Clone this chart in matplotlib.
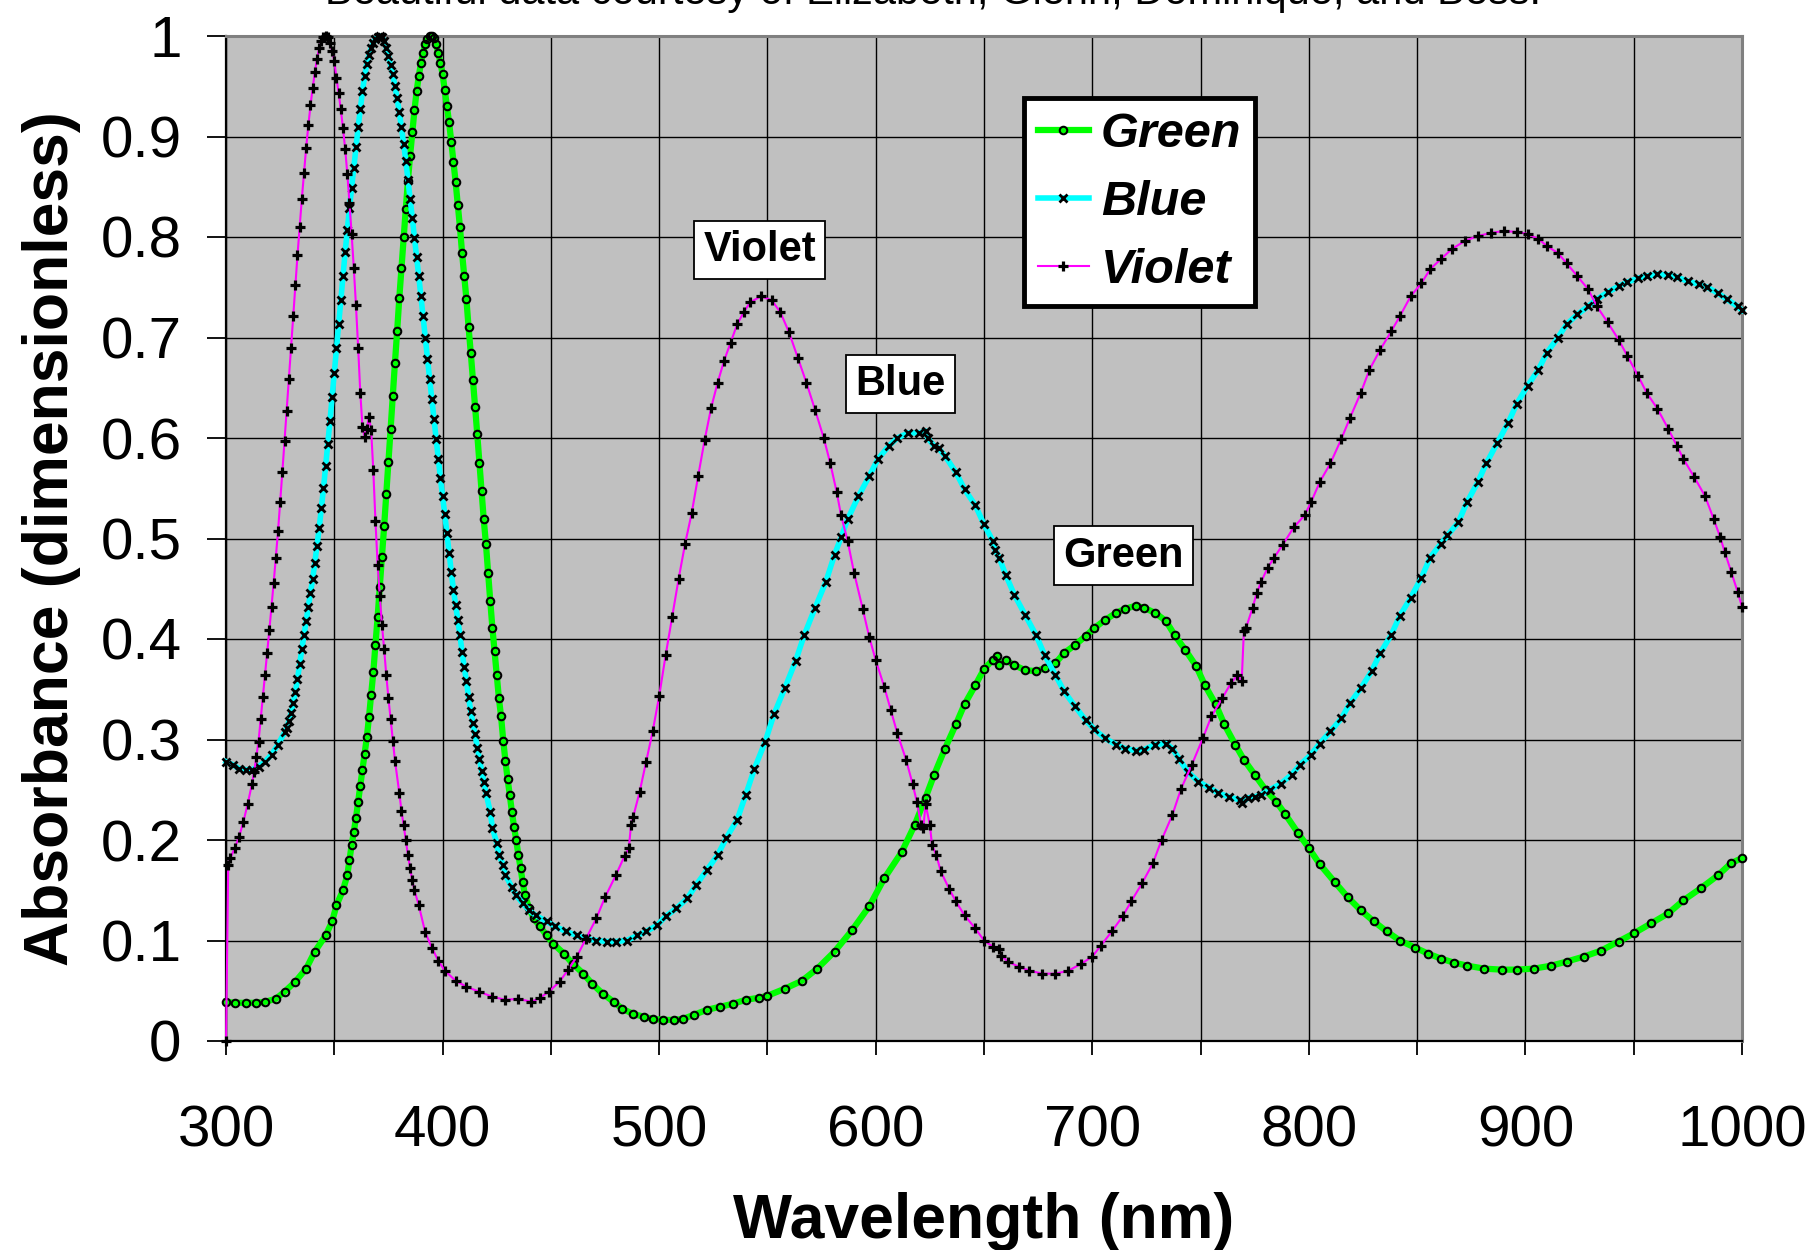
import matplotlib
matplotlib.use("Agg")
import matplotlib.pyplot as plt
from matplotlib.ticker import MultipleLocator, FixedLocator

plt.rcParams['font.family'] = ['Liberation Sans', 'DejaVu Sans']

# absorbance spectra (wavelength nm, absorbance)
green_pts = [
    (300, 0.039), (304, 0.038), (309, 0.038), (314, 0.038), (318, 0.039), (323, 0.042),
    (327, 0.049), (332, 0.059), (337, 0.072), (341, 0.089), (346, 0.105), (349, 0.119),
    (351, 0.135), (354, 0.150), (356, 0.165), (357, 0.180), (358, 0.195), (359, 0.208),
    (360, 0.222), (361, 0.238), (362, 0.254), (363, 0.270), (364, 0.286), (365, 0.302),
    (366, 0.322), (367, 0.344), (368, 0.367), (369, 0.394), (370, 0.422), (371, 0.452),
    (372, 0.482), (373, 0.512), (374, 0.544), (375, 0.576), (376, 0.609), (377, 0.642),
    (378, 0.675), (379, 0.706), (380, 0.739), (381, 0.769), (382, 0.800), (383, 0.828),
    (384, 0.856), (385, 0.881), (386, 0.904), (387, 0.926), (388, 0.945), (389, 0.960),
    (390, 0.973), (391, 0.983), (392, 0.992), (393, 0.997), (394, 1.000), (395, 1.000),
    (396, 0.998), (397, 0.992), (398, 0.983), (399, 0.973), (400, 0.962), (401, 0.946),
    (402, 0.930), (403, 0.914), (404, 0.895), (405, 0.875), (406, 0.855), (407, 0.832),
    (408, 0.810), (409, 0.784), (410, 0.761), (411, 0.738), (412, 0.710), (413, 0.685),
    (414, 0.658), (415, 0.631), (416, 0.604), (417, 0.575), (418, 0.547), (419, 0.519),
    (420, 0.495), (421, 0.466), (422, 0.438), (423, 0.411), (424, 0.388), (425, 0.364),
    (426, 0.341), (427, 0.323), (428, 0.299), (429, 0.279), (430, 0.261), (431, 0.245),
    (432, 0.228), (433, 0.213), (434, 0.200), (435, 0.185), (436, 0.172), (437, 0.158),
    (438, 0.145), (440, 0.132), (442, 0.122), (445, 0.114), (448, 0.105), (451, 0.097),
    (456, 0.087), (460, 0.077), (465, 0.067), (469, 0.057), (474, 0.047), (479, 0.039),
    (483, 0.032), (488, 0.027), (493, 0.024), (497, 0.022), (502, 0.021), (507, 0.021),
    (511, 0.022), (516, 0.026), (522, 0.031), (528, 0.034), (534, 0.037), (540, 0.041),
    (546, 0.043), (550, 0.045), (558, 0.052), (566, 0.060), (573, 0.072), (581, 0.089),
    (589, 0.110), (597, 0.134), (604, 0.162), (612, 0.188), (618, 0.215), (623, 0.242),
    (627, 0.265), (632, 0.291), (637, 0.315), (641, 0.335), (646, 0.354), (650, 0.370),
    (654, 0.379), (656, 0.383), (657, 0.374), (660, 0.379), (664, 0.374), (669, 0.369),
    (674, 0.368), (678, 0.371), (683, 0.376), (687, 0.386), (692, 0.394), (697, 0.403),
    (701, 0.411), (706, 0.419), (711, 0.426), (715, 0.430), (720, 0.433), (724, 0.431),
    (729, 0.426), (734, 0.418), (738, 0.404), (743, 0.389), (748, 0.373), (752, 0.354),
    (757, 0.335), (761, 0.315), (766, 0.295), (770, 0.280), (775, 0.265), (780, 0.250),
    (785, 0.238), (789, 0.226), (795, 0.207), (800, 0.192), (805, 0.176), (812, 0.158),
    (818, 0.143), (824, 0.130), (830, 0.119), (836, 0.109), (842, 0.100), (849, 0.093),
    (855, 0.087), (861, 0.082), (867, 0.078), (873, 0.075), (881, 0.072), (889, 0.071),
    (896, 0.071), (904, 0.072), (912, 0.075), (919, 0.079), (927, 0.084), (935, 0.090),
    (943, 0.099), (950, 0.107), (958, 0.117), (966, 0.127), (973, 0.140), (981, 0.152),
    (989, 0.165), (995, 0.177), (1000, 0.182),
]

blue_pts = [
    (300, 0.278), (303, 0.275), (306, 0.271), (309, 0.270), (312, 0.270), (315, 0.273),
    (318, 0.278), (321, 0.285), (324, 0.295), (327, 0.307), (328, 0.311), (329, 0.318),
    (330, 0.326), (331, 0.336), (332, 0.347), (333, 0.360), (334, 0.375), (335, 0.390),
    (336, 0.404), (337, 0.418), (338, 0.432), (339, 0.446), (340, 0.460), (341, 0.476),
    (342, 0.493), (343, 0.510), (344, 0.530), (345, 0.550), (346, 0.572), (347, 0.594),
    (348, 0.617), (349, 0.641), (350, 0.665), (351, 0.690), (352, 0.713), (353, 0.737),
    (354, 0.761), (355, 0.785), (356, 0.807), (357, 0.829), (358, 0.849), (359, 0.869),
    (360, 0.890), (361, 0.909), (362, 0.927), (363, 0.945), (364, 0.960), (365, 0.972),
    (366, 0.981), (367, 0.988), (368, 0.993), (369, 0.997), (370, 0.999), (371, 1.000),
    (372, 0.999), (373, 0.995), (374, 0.988), (375, 0.980), (376, 0.971), (377, 0.962),
    (378, 0.950), (379, 0.938), (380, 0.924), (381, 0.909), (382, 0.893), (383, 0.876),
    (384, 0.857), (385, 0.838), (386, 0.819), (387, 0.799), (388, 0.780), (389, 0.761),
    (390, 0.741), (391, 0.721), (392, 0.700), (393, 0.679), (394, 0.659), (395, 0.639),
    (396, 0.619), (397, 0.599), (398, 0.579), (399, 0.560), (400, 0.542), (401, 0.524),
    (402, 0.505), (403, 0.486), (404, 0.467), (405, 0.449), (406, 0.434), (407, 0.419),
    (408, 0.404), (409, 0.387), (410, 0.372), (411, 0.358), (412, 0.342), (413, 0.328),
    (414, 0.316), (415, 0.305), (416, 0.292), (417, 0.281), (418, 0.269), (419, 0.258),
    (420, 0.247), (422, 0.228), (423, 0.212), (425, 0.197), (426, 0.185), (428, 0.175),
    (429, 0.165), (432, 0.153), (434, 0.145), (437, 0.137), (440, 0.130), (443, 0.125),
    (448, 0.119), (452, 0.114), (457, 0.109), (462, 0.105), (466, 0.102), (471, 0.100),
    (476, 0.099), (480, 0.099), (485, 0.100), (490, 0.105), (494, 0.109), (499, 0.115),
    (503, 0.124), (508, 0.132), (513, 0.142), (517, 0.155), (522, 0.170), (527, 0.185),
    (531, 0.202), (536, 0.220), (540, 0.245), (544, 0.271), (549, 0.298), (553, 0.325),
    (558, 0.351), (563, 0.378), (567, 0.404), (572, 0.431), (577, 0.457), (581, 0.484),
    (584, 0.501), (587, 0.519), (592, 0.542), (597, 0.562), (601, 0.579), (606, 0.592),
    (610, 0.600), (615, 0.605), (620, 0.605), (623, 0.607), (624, 0.600), (627, 0.592),
    (629, 0.590), (632, 0.582), (637, 0.566), (641, 0.549), (646, 0.533), (650, 0.514),
    (654, 0.498), (655, 0.489), (657, 0.481), (660, 0.464), (664, 0.444), (669, 0.424),
    (674, 0.404), (678, 0.384), (683, 0.364), (687, 0.348), (692, 0.333), (697, 0.319),
    (701, 0.310), (706, 0.301), (711, 0.295), (715, 0.291), (720, 0.289), (724, 0.290),
    (729, 0.295), (734, 0.296), (737, 0.291), (740, 0.281), (744, 0.268), (749, 0.258),
    (754, 0.252), (758, 0.247), (763, 0.243), (768, 0.240), (769, 0.237), (772, 0.242),
    (775, 0.243), (778, 0.245), (782, 0.250), (787, 0.256), (792, 0.265), (796, 0.275),
    (801, 0.285), (805, 0.296), (810, 0.308), (815, 0.321), (819, 0.336), (824, 0.351),
    (829, 0.368), (833, 0.386), (838, 0.404), (842, 0.423), (847, 0.441), (852, 0.461),
    (856, 0.481), (861, 0.495), (864, 0.503), (869, 0.516), (873, 0.536), (878, 0.556),
    (882, 0.575), (887, 0.595), (892, 0.615), (896, 0.634), (901, 0.652), (906, 0.668),
    (910, 0.685), (915, 0.700), (919, 0.713), (924, 0.723), (929, 0.731), (933, 0.738),
    (938, 0.745), (943, 0.751), (947, 0.755), (952, 0.759), (956, 0.761), (961, 0.763),
    (966, 0.762), (970, 0.760), (975, 0.756), (980, 0.753), (984, 0.750), (989, 0.744),
    (993, 0.738), (998, 0.731), (1000, 0.727),
]

violet_pts = [
    (300, 0.000), (301, 0.175), (302, 0.182), (304, 0.192), (306, 0.203), (308, 0.218),
    (310, 0.236), (312, 0.256), (313, 0.268), (314, 0.283), (315, 0.298), (316, 0.320),
    (317, 0.342), (318, 0.364), (319, 0.386), (320, 0.409), (321, 0.432), (322, 0.456),
    (323, 0.481), (324, 0.507), (325, 0.536), (326, 0.566), (327, 0.597), (328, 0.627),
    (329, 0.659), (330, 0.690), (331, 0.721), (332, 0.752), (333, 0.782), (334, 0.810),
    (335, 0.838), (336, 0.864), (337, 0.889), (338, 0.911), (339, 0.931), (340, 0.948),
    (341, 0.964), (342, 0.977), (343, 0.988), (344, 0.995), (345, 0.999), (346, 1.000),
    (347, 0.999), (348, 0.993), (349, 0.985), (350, 0.975), (351, 0.958), (352, 0.943),
    (353, 0.927), (354, 0.908), (355, 0.888), (356, 0.863), (357, 0.834), (358, 0.803),
    (359, 0.769), (360, 0.732), (361, 0.690), (362, 0.645), (363, 0.611), (364, 0.601),
    (365, 0.609), (366, 0.621), (367, 0.608), (368, 0.568), (369, 0.517), (370, 0.474),
    (371, 0.443), (372, 0.414), (373, 0.390), (374, 0.364), (375, 0.341), (376, 0.320),
    (377, 0.299), (378, 0.279), (380, 0.247), (381, 0.229), (382, 0.215), (383, 0.200),
    (384, 0.185), (385, 0.172), (386, 0.160), (387, 0.150), (389, 0.135), (392, 0.108),
    (395, 0.093), (398, 0.080), (401, 0.070), (406, 0.060), (411, 0.054), (417, 0.049),
    (423, 0.044), (429, 0.041), (435, 0.042), (441, 0.039), (445, 0.043), (449, 0.049),
    (454, 0.059), (458, 0.071), (462, 0.084), (466, 0.101), (471, 0.122), (475, 0.143),
    (480, 0.165), (484, 0.184), (486, 0.192), (487, 0.215), (488, 0.223), (491, 0.248),
    (494, 0.278), (497, 0.308), (500, 0.343), (503, 0.384), (506, 0.422), (509, 0.460),
    (512, 0.495), (515, 0.525), (518, 0.562), (521, 0.598), (524, 0.630), (527, 0.655),
    (530, 0.677), (533, 0.695), (536, 0.713), (539, 0.725), (542, 0.735), (547, 0.741),
    (552, 0.737), (556, 0.725), (560, 0.705), (564, 0.680), (568, 0.655), (572, 0.628),
    (576, 0.600), (579, 0.575), (582, 0.546), (584, 0.523), (587, 0.498), (590, 0.466),
    (594, 0.430), (597, 0.402), (600, 0.379), (604, 0.352), (607, 0.329), (610, 0.306),
    (614, 0.280), (617, 0.256), (619, 0.238), (621, 0.215), (622, 0.212), (623, 0.236),
    (625, 0.215), (626, 0.195), (628, 0.185), (630, 0.169), (634, 0.151), (637, 0.139),
    (641, 0.125), (646, 0.112), (650, 0.100), (654, 0.094), (657, 0.092), (658, 0.085),
    (661, 0.079), (666, 0.074), (671, 0.070), (677, 0.067), (683, 0.067), (689, 0.070),
    (695, 0.077), (700, 0.084), (704, 0.095), (709, 0.109), (714, 0.124), (718, 0.139),
    (723, 0.157), (728, 0.177), (732, 0.200), (737, 0.225), (741, 0.251), (746, 0.275),
    (751, 0.301), (755, 0.323), (760, 0.341), (764, 0.356), (767, 0.364), (769, 0.358),
    (770, 0.408), (771, 0.411), (774, 0.431), (776, 0.446), (778, 0.457), (781, 0.471),
    (784, 0.481), (788, 0.494), (793, 0.511), (798, 0.523), (801, 0.536), (805, 0.556),
    (810, 0.575), (815, 0.599), (819, 0.620), (824, 0.645), (828, 0.668), (833, 0.688),
    (838, 0.706), (842, 0.721), (847, 0.741), (852, 0.754), (856, 0.768), (861, 0.778),
    (866, 0.788), (872, 0.796), (878, 0.801), (884, 0.804), (890, 0.806), (896, 0.805),
    (901, 0.803), (906, 0.798), (910, 0.791), (915, 0.784), (919, 0.774), (924, 0.761),
    (929, 0.748), (933, 0.731), (938, 0.715), (943, 0.698), (947, 0.682), (952, 0.662),
    (956, 0.645), (961, 0.629), (966, 0.609), (970, 0.592), (973, 0.579), (978, 0.561),
    (983, 0.542), (987, 0.519), (990, 0.501), (992, 0.487), (995, 0.467), (998, 0.447),
    (1000, 0.432),
]

series_names = ['Green', 'Blue', 'Violet']
x_ticks = [300, 400, 500, 600, 700, 800, 900, 1000]
y_ticks = [0, 0.1, 0.2, 0.3, 0.4, 0.5, 0.6, 0.7, 0.8, 0.9, 1.0]
y_ticklabels = ['0', '0.1', '0.2', '0.3', '0.4', '0.5', '0.6', '0.7', '0.8', '0.9', '1']

# text labels placed next to the long-wavelength bands
band_labels = [('Violet', 546.5, 0.787), ('Blue', 611.5, 0.654), ('Green', 714.5, 0.483)]

title = 'Beautiful data courtesy of Elizabeth, Glenn, Dominique, and Bess.'

green_nm, green_abs = zip(*green_pts)
blue_nm, blue_abs = zip(*blue_pts)
violet_nm, violet_abs = zip(*violet_pts)

fig = plt.figure(figsize=(18.17, 12.5), dpi=100)
ax = fig.add_axes([0.1244, 0.1672, 0.8343, 0.804])
ax.set_facecolor('#c0c0c0')

ax.plot(green_nm, green_abs, color='#00ff00', lw=4.5, marker='o', ms=5.4,
        mfc='none', mec='black', mew=1.5, label=series_names[0], clip_on=False, zorder=3)
ax.plot(blue_nm, blue_abs, color='#00ffff', lw=4.0, marker='x', ms=6.0,
        mec='black', mew=2.0, label=series_names[1], clip_on=False, zorder=4)
ax.plot(violet_nm, violet_abs, color='#ff00ff', lw=1.5, marker='+', ms=7.0,
        mec='black', mew=2.3, label=series_names[2], clip_on=False, zorder=5)

ax.set_xlim(300, 1000)
ax.set_ylim(0, 1)
ax.xaxis.set_major_locator(FixedLocator(x_ticks))
ax.xaxis.set_minor_locator(MultipleLocator(50))
ax.set_yticks(y_ticks)
ax.set_yticklabels(y_ticklabels)

ax.grid(True, which='both', color='black', lw=1.0, zorder=1)
ax.set_axisbelow(True)

ax.tick_params(axis='y', which='major', direction='out', length=14, width=1.3,
               labelsize=42, pad=18)
ax.tick_params(axis='x', which='both', direction='out', length=10, width=1.3,
               labelsize=42, pad=36)

for side in ['top', 'right']:
    ax.spines[side].set_color('#808080')
    ax.spines[side].set_linewidth(2.2)
for side in ['left', 'bottom']:
    ax.spines[side].set_color('black')
    ax.spines[side].set_linewidth(1.6)

ax.set_xlabel('Wavelength (nm)', fontsize=45, fontweight='bold', labelpad=24)
ax.set_ylabel('Absorbance (dimensionless)', fontsize=45, fontweight='bold', labelpad=14)

for text, x, y in band_labels:
    ax.text(x, y, text, fontsize=30, fontweight='bold', ha='center', va='center', zorder=6,
            bbox=dict(boxstyle='square,pad=0.22', fc='white', ec='black', lw=1.3))

leg = ax.legend(loc='upper left', bbox_to_anchor=(0.5265, 0.938), numpoints=1,
                prop={'size': 35, 'weight': 'bold', 'style': 'italic'},
                handlelength=1.05, handletextpad=0.25, labelspacing=0.47,
                borderpad=0.28, borderaxespad=0, fancybox=False, framealpha=1,
                facecolor='white', edgecolor='black')
leg.get_frame().set_linewidth(3.5)
leg.set_zorder(7)

fig.text(0.5135, 0.9968, title, fontsize=30, ha='center', va='baseline')

fig.savefig('out.png', dpi=100)
